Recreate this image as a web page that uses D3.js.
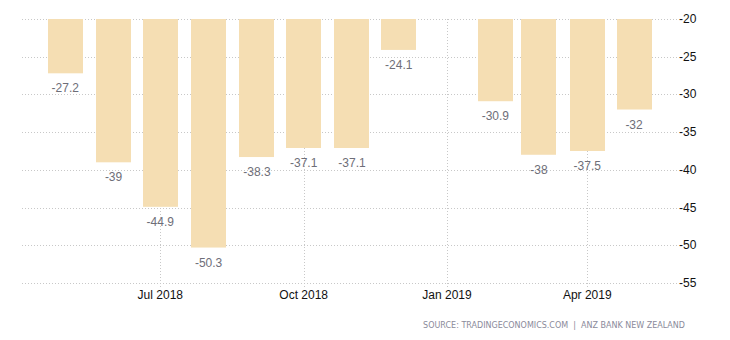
<!DOCTYPE html>
<html><head><meta charset="utf-8">
<script src="https://cdn.jsdelivr.net/npm/d3@7"></script>
<style>body{margin:0;background:#fff}svg{display:block}</style>
</head><body>
<svg id="c" width="730" height="340"></svg>
<script>
const months = ["2018-05","2018-06","2018-07","2018-08","2018-09","2018-10","2018-11","2018-12","2019-02","2019-03","2019-04","2019-05"];
const values = [-27.2,-39,-44.9,-50.3,-38.3,-37.1,-37.1,-24.1,-30.9,-38,-37.5,-32];
const yTicks = [-20,-25,-30,-35,-40,-45,-50,-55];
const xTickDates = ["2018-07","2018-10","2019-01","2019-04"];
const xTickLabels = ["Jul 2018","Oct 2018","Jan 2019","Apr 2019"];
const sourceText = "SOURCE: TRADINGECONOMICS.COM  |  ANZ BANK NEW ZEALAND";

(function(){
const parse = d3.timeParse("%Y-%m");
const svg = d3.select("#c");
const pl = 22, pr = 677, pt = 19, pb = 283;

const x = d3.scaleTime().domain([parse("2018-07"), parse("2019-04")]).range([160.3, 587.3]);
const y = d3.scaleLinear().domain([-20, -55]).range([pt, pb]);
const barW = 35;

svg.append("g").selectAll("line").data(yTicks).join("line")
  .attr("x1", pl).attr("x2", pr)
  .attr("y1", d => Math.round(y(d)) + 0.5).attr("y2", d => Math.round(y(d)) + 0.5)
  .attr("stroke", "#c8c8c8").attr("stroke-dasharray", "1,2");
svg.append("g").selectAll("line").data(xTickDates).join("line")
  .attr("x1", d => Math.round(x(parse(d))) + 0.5).attr("x2", d => Math.round(x(parse(d))) + 0.5)
  .attr("y1", pt).attr("y2", pb + 4)
  .attr("stroke", "#c8c8c8").attr("stroke-dasharray", "1,2");

const data = months.map((m, i) => ({ d: parse(m), v: values[i] }));

svg.append("g").selectAll("rect").data(data).join("rect")
  .attr("x", d => Math.round(x(d.d) - barW / 2))
  .attr("y", y(-20))
  .attr("width", barW)
  .attr("height", d => y(d.v) - y(-20))
  .attr("fill", "#F5DEB3");

svg.append("g").selectAll("text").data(data).join("text")
  .attr("x", d => x(d.d))
  .attr("y", d => y(d.v) + 19)
  .attr("text-anchor", "middle")
  .attr("font-family", "Liberation Sans, Arial, sans-serif")
  .attr("font-size", 12)
  .attr("fill", "#6e6e78")
  .text(d => d.v);

svg.append("g").selectAll("text").data(yTicks).join("text")
  .attr("x", 679)
  .attr("y", d => y(d) + 4)
  .attr("font-family", "Liberation Sans, Arial, sans-serif")
  .attr("font-size", 12)
  .attr("fill", "#111")
  .text(d => d);

svg.append("g").selectAll("text").data(xTickDates).join("text")
  .attr("x", d => x(parse(d)))
  .attr("y", 299)
  .attr("text-anchor", "middle")
  .attr("font-family", "Liberation Sans, Arial, sans-serif")
  .attr("font-size", 12)
  .attr("fill", "#111")
  .text((d, i) => xTickLabels[i]);

svg.append("text")
  .attr("x", 685).attr("y", 328)
  .attr("text-anchor", "end")
  .attr("font-family", "DejaVu Sans, sans-serif")
  .attr("font-size", 8)
  .attr("fill", "#8a8a9a")
  .style("white-space", "pre")
  .text(sourceText);
})();
</script>
</body></html>
